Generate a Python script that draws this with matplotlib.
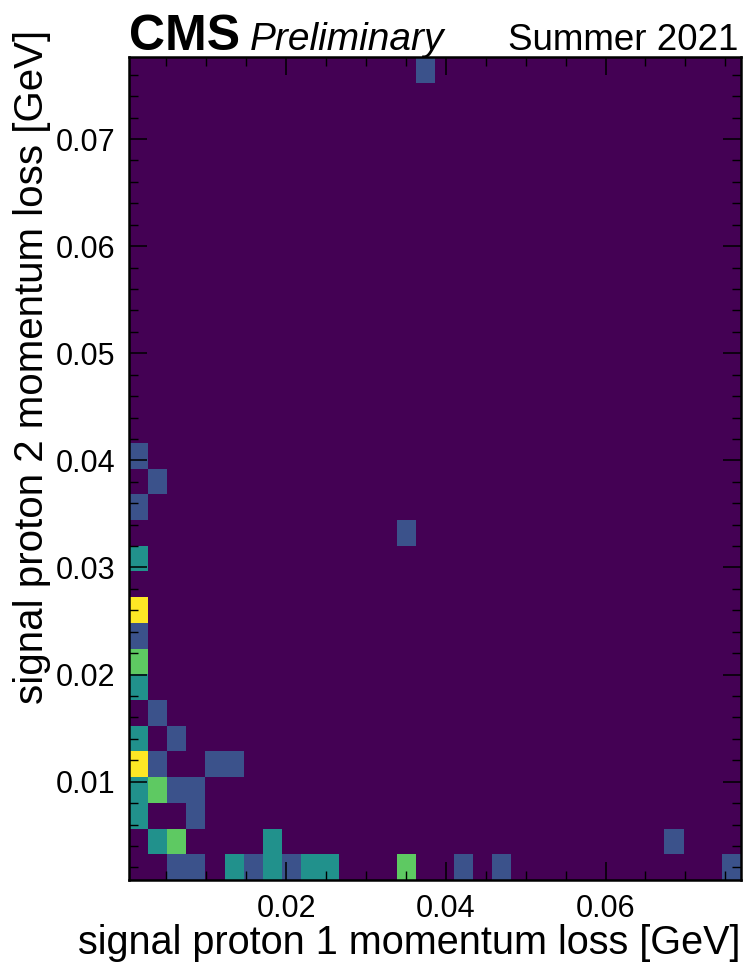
import matplotlib
matplotlib.use("Agg")
import matplotlib.pyplot as plt
from matplotlib.ticker import MultipleLocator
import numpy as np


## Filled bins: momentum loss of signal proton 1 / proton 2 [GeV] and entries
loss1 = [0.00154, 0.00154, 0.00154, 0.00154, 0.00154, 0.00154, 0.00154,
         0.00154, 0.00154, 0.00154, 0.00154,
         0.00393, 0.00393, 0.00393, 0.00393, 0.00393,
         0.00633, 0.00633, 0.00633, 0.00633,
         0.00872, 0.00872, 0.00872,
         0.01112, 0.01351, 0.01351, 0.01590, 0.01830, 0.01830,
         0.02069, 0.02309, 0.02548, 0.03506, 0.03506, 0.03745,
         0.04224, 0.04703, 0.06857, 0.07575]
loss2 = [0.04044, 0.03563, 0.03083, 0.02603, 0.02363, 0.02123, 0.01883,
         0.01403, 0.01162, 0.00922, 0.00682,
         0.03804, 0.01643, 0.01162, 0.00922, 0.00442,
         0.01403, 0.00922, 0.00442, 0.00202,
         0.00922, 0.00682, 0.00202,
         0.01162, 0.01162, 0.00202, 0.00202, 0.00442, 0.00202,
         0.00202, 0.00202, 0.00202, 0.00202, 0.03323, 0.07645,
         0.00202, 0.00202, 0.00442, 0.00202]
entries = [1, 1, 2, 4, 1, 3, 2,
           2, 4, 2, 2,
           1, 1, 1, 3, 2,
           1, 1, 3, 1,
           1, 1, 1,
           1, 1, 2, 1, 2, 2,
           1, 2, 2, 3, 1, 1,
           1, 1, 1, 1]

n_bins = 32
x_range = [0.00034, 0.07696]
y_range = [0.00082, 0.07766]


plt.rcParams['font.family'] = ['Liberation Sans', 'DejaVu Sans']

fig = plt.figure(figsize=(7.43, 9.64), dpi=100)
ax = fig.add_axes([0.1736, 0.0871, 0.8237, 0.8538])

ax.hist2d(loss1, loss2, bins=n_bins, range=[x_range, y_range],
          weights=entries, cmap='viridis', vmin=0, vmax=4)

ax.set_xlim(x_range)
ax.set_ylim(y_range)

## ticks, CMS style: inside, all four sides
ax.xaxis.set_major_locator(MultipleLocator(0.02))
ax.xaxis.set_minor_locator(MultipleLocator(0.005))
ax.yaxis.set_major_locator(MultipleLocator(0.01))
ax.yaxis.set_minor_locator(MultipleLocator(0.002))
ax.tick_params(which='both', direction='in', top=True, right=True,
               labelsize=22, color='black')
ax.tick_params(which='major', length=13, width=1.1, pad=10)
ax.tick_params(which='minor', length=6.5, width=1.0)
for s in ax.spines.values():
    s.set_linewidth(1.8)

ax.set_xlabel('signal proton 1 momentum loss [GeV]', fontsize=28.5, loc='right',
              labelpad=0)
ax.set_ylabel('signal proton 2 momentum loss [GeV]', fontsize=29, loc='top',
              labelpad=3)
ax.yaxis.label.set_y(1.033)

## header
ax.text(0.0, 1.0085, 'CMS', transform=ax.transAxes, fontsize=36,
        fontweight='bold', ha='left', va='baseline')
ax.text(0.198, 1.0085, 'Preliminary', transform=ax.transAxes, fontsize=28,
        fontstyle='italic', ha='left', va='baseline')
ax.text(0.995, 1.0085, 'Summer 2021', transform=ax.transAxes, fontsize=26.5,
        ha='right', va='baseline')

fig.savefig('out.png', dpi=100)
